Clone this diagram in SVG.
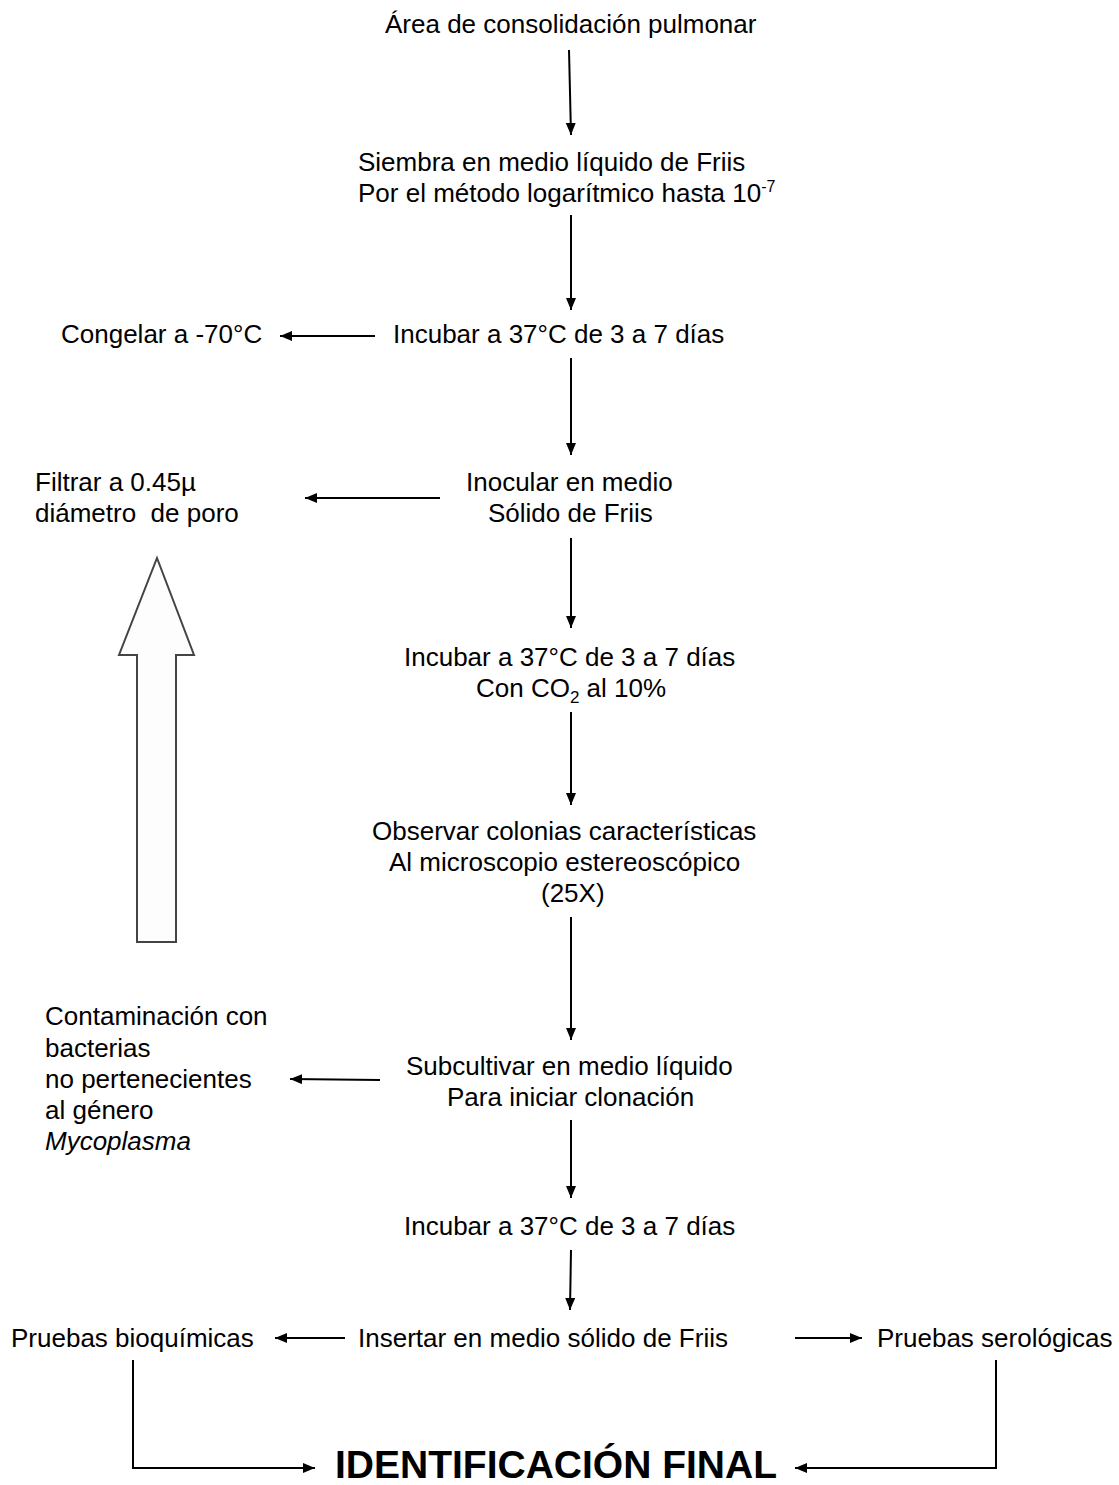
<svg xmlns="http://www.w3.org/2000/svg" width="1119" height="1485" viewBox="0 0 1119 1485">
<style>
text{font-family:"Liberation Sans",Arial,sans-serif;font-size:26px;fill:#000}
.b{font-weight:bold;font-size:38px}
.c{stroke:#000;stroke-width:2;fill:none}
</style>
<defs>
<marker id="ah" markerUnits="userSpaceOnUse" markerWidth="14" markerHeight="12" refX="12" refY="5" orient="auto"><path d="M0,0 L12,5 L0,10 Z" fill="#000"/></marker>
</defs>
<rect width="1119" height="1485" fill="#fff"/>
<g id="connectors">
<line class="c" x1="569" y1="50" x2="571" y2="135" marker-end="url(#ah)"/>
<line class="c" x1="571" y1="215" x2="571" y2="310" marker-end="url(#ah)"/>
<line class="c" x1="571" y1="358" x2="571" y2="455" marker-end="url(#ah)"/>
<line class="c" x1="571" y1="538" x2="571" y2="628" marker-end="url(#ah)"/>
<line class="c" x1="571" y1="712" x2="571" y2="805" marker-end="url(#ah)"/>
<line class="c" x1="571" y1="917" x2="571" y2="1040" marker-end="url(#ah)"/>
<line class="c" x1="571" y1="1120" x2="571" y2="1198" marker-end="url(#ah)"/>
<line class="c" x1="571" y1="1250" x2="570" y2="1310" marker-end="url(#ah)"/>
<line class="c" x1="375" y1="336" x2="280" y2="336" marker-end="url(#ah)"/>
<line class="c" x1="440" y1="498" x2="305" y2="498" marker-end="url(#ah)"/>
<line class="c" x1="380" y1="1080" x2="290" y2="1079" marker-end="url(#ah)"/>
<line class="c" x1="345" y1="1338" x2="275" y2="1338" marker-end="url(#ah)"/>
<line class="c" x1="795" y1="1338" x2="862" y2="1338" marker-end="url(#ah)"/>
<polyline class="c" points="133,1360 133,1468 315,1468" marker-end="url(#ah)"/>
<polyline class="c" points="996,1360 996,1468 795,1468" marker-end="url(#ah)"/>
</g>
<g id="big-arrow">
<polygon points="157,558 194,655 176,655 176,942 137,942 137,655 119,655" fill="#fdfdfd" stroke="#444" stroke-width="2"/>
</g>
<g id="n1"><text x="385" y="33">Área de consolidación pulmonar</text></g>
<g id="n2"><text x="358" y="171">Siembra en medio líquido de Friis</text><text x="358" y="202">Por el método logarítmico hasta 10<tspan font-size="16" dy="-10">-7</tspan></text></g>
<g id="n3"><text x="393" y="343">Incubar a 37°C de 3 a 7 días</text></g>
<g id="n4"><text x="61" y="343">Congelar a -70°C</text></g>
<g id="n5"><text x="466" y="491">Inocular en medio</text><text x="488" y="522">Sólido de Friis</text></g>
<g id="n6"><text x="35" y="491">Filtrar a 0.45µ</text><text x="35" y="522" style="white-space:pre">diámetro  de poro</text></g>
<g id="n7"><text x="404" y="666">Incubar a 37°C de 3 a 7 días</text><text x="476" y="697">Con CO<tspan font-size="17" dy="6">2</tspan><tspan dy="-6"> al 10%</tspan></text></g>
<g id="n8"><text x="372" y="840">Observar colonias características</text><text x="389" y="871">Al microscopio estereoscópico</text><text x="541" y="902">(25X)</text></g>
<g id="n9"><text x="45" y="1025">Contaminación con</text><text x="45" y="1057">bacterias</text><text x="45" y="1088">no pertenecientes</text><text x="45" y="1119">al género</text><text x="45" y="1150" font-style="italic">Mycoplasma</text></g>
<g id="n10"><text x="406" y="1075">Subcultivar en medio líquido</text><text x="447" y="1106">Para iniciar clonación</text></g>
<g id="n11"><text x="404" y="1235">Incubar a 37°C de 3 a 7 días</text></g>
<g id="n12"><text x="358" y="1347">Insertar en medio sólido de Friis</text></g>
<g id="n13"><text x="11" y="1347">Pruebas bioquímicas</text></g>
<g id="n14"><text x="877" y="1347">Pruebas serológicas</text></g>
<g id="n15"><text class="b" x="335" y="1478" textLength="442" lengthAdjust="spacingAndGlyphs">IDENTIFICACIÓN FINAL</text></g>
</svg>
